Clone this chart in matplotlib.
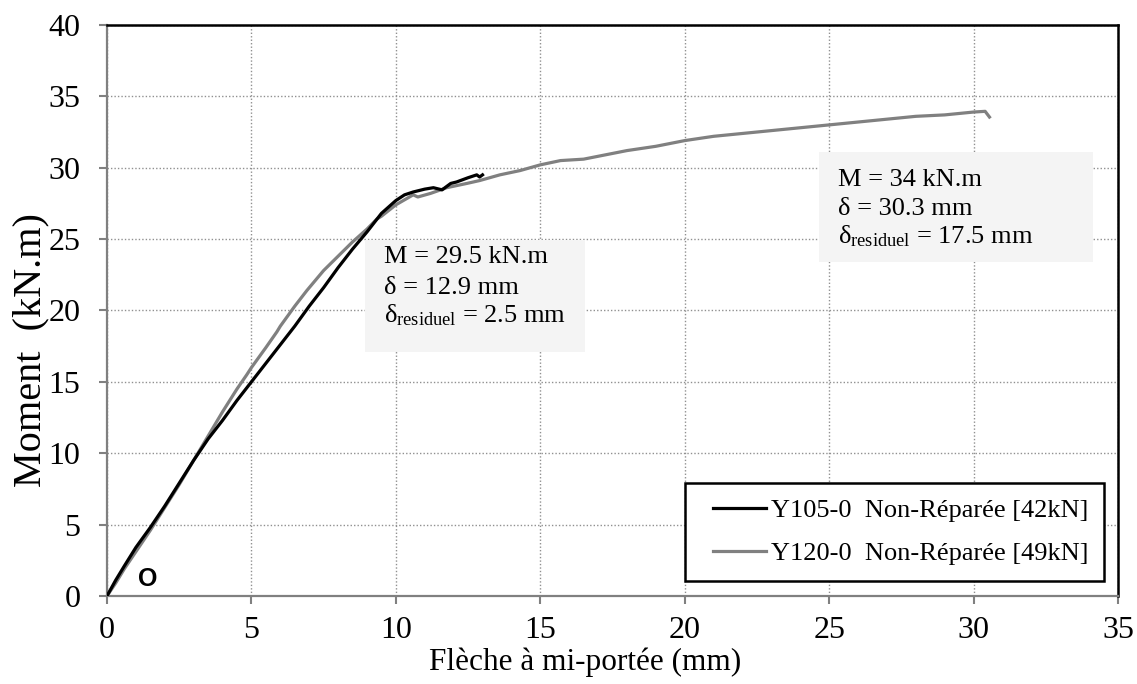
import matplotlib
matplotlib.use("Agg")
import matplotlib.pyplot as plt
from matplotlib.patches import Rectangle
from matplotlib.legend_handler import HandlerLine2D

# Y105-0 Non-Réparée [42kN]
x_y105 = [0, 0.3, 0.6, 1.0, 1.5, 2.0, 2.5, 3.0, 3.5, 4.0, 4.5, 5.0, 5.5, 6.0, 6.5,
          7.0, 7.5, 8.0, 8.5, 9.0, 9.5, 10.0, 10.3, 10.6, 11.0, 11.3, 11.6, 11.9,
          12.1, 12.5, 12.8, 12.9, 13.0]
m_y105 = [0, 1.1, 2.1, 3.4, 4.8, 6.3, 7.9, 9.5, 11.0, 12.3, 13.7, 15.0, 16.3, 17.6, 18.9,
          20.3, 21.6, 23.0, 24.3, 25.5, 26.8, 27.7, 28.1, 28.3, 28.5, 28.6, 28.45, 28.9,
          29.0, 29.3, 29.5, 29.35, 29.5]

# Y120-0 Non-Réparée [49kN]
x_y120 = [0, 0.3, 0.6, 1.0, 1.5, 2.0, 2.5, 3.0, 3.5, 4.0, 4.5, 4.84, 5.0, 5.5, 5.88,
          6.0, 6.5, 6.92, 7.5, 8.0, 8.5, 9.0, 9.34, 9.5, 10.0, 10.6, 10.76, 11.2,
          11.76, 12.46, 12.9, 13.6, 14.3, 15.0, 15.7, 16.5, 17.5, 18.0, 19.0, 20.0,
          21.0, 22.0, 23.0, 24.0, 25.0, 26.0, 27.0, 28.0, 29.0, 30.0, 30.4, 30.55]
m_y120 = [0, 0.9, 1.9, 3.1, 4.6, 6.2, 7.8, 9.5, 11.2, 12.9, 14.5, 15.5, 16.0, 17.4, 18.5,
          18.9, 20.3, 21.4, 22.8, 23.8, 24.8, 25.7, 26.4, 26.6, 27.4, 28.1, 27.95, 28.2,
          28.6, 28.9, 29.1, 29.5, 29.8, 30.2, 30.5, 30.6, 31.0, 31.2, 31.5, 31.9,
          32.2, 32.4, 32.6, 32.8, 33.0, 33.2, 33.4, 33.6, 33.7, 33.9, 33.95, 33.55]

labels = ["Y105-0  Non-Réparée [42kN]", "Y120-0  Non-Réparée [49kN]"]
x_ticks = [0, 5, 10, 15, 20, 25, 30, 35]
y_ticks = [0, 5, 10, 15, 20, 25, 30, 35, 40]

note1 = ["M = 29.5 kN.m", "δ = 12.9 mm", r"$\mathregular{δ_{residuel}}$ = 2.5 mm"]
note2 = ["M = 34 kN.m", "δ = 30.3 mm", r"$\mathregular{δ_{residuel}}$ = 17.5 mm"]

plt.rcParams['font.family'] = ['Liberation Serif', 'DejaVu Serif']
plt.rcParams['mathtext.fontset'] = 'custom'
plt.rcParams['mathtext.rm'] = 'Liberation Serif'

fig = plt.figure(figsize=(11.37, 6.84), dpi=100)
ax = fig.add_axes([0.0941, 0.1287, 0.8892, 0.8348])

ax.plot(x_y105, m_y105, color='black', lw=2.3, label=labels[0], zorder=4)
ax.plot(x_y120, m_y120, color='#808080', lw=2.3, label=labels[1], zorder=3)

ax.set_xlim(0, 35)
ax.set_ylim(0, 40)
ax.set_xticks(x_ticks)
ax.set_yticks(y_ticks)
ax.tick_params(axis='both', labelsize=23, color='#808080', length=6, width=1.5,
               direction='out')
ax.tick_params(axis='x', pad=8.5)
ax.tick_params(axis='y', pad=13)
ax.grid(True, color='#909090', linestyle=(0, (1, 1.5)), lw=1)
ax.set_axisbelow(True)

for s in ['left', 'bottom']:
    ax.spines[s].set_color('#808080')
    ax.spines[s].set_linewidth(1.6)
for s in ['top', 'right']:
    ax.spines[s].set_color('black')
    ax.spines[s].set_linewidth(1.8)

ax.set_xlabel("Flèche à mi-portée (mm)", fontsize=22.5)
ax.set_ylabel("Moment  (kN.m)", fontsize=29)
ax.xaxis.set_label_coords(0.473, -0.09)
ax.yaxis.set_label_coords(-0.057, 0.431)

# annotation boxes
ax.add_patch(Rectangle((8.93, 17.09), 16.55 - 8.93, 24.94 - 17.09,
                       facecolor='#f4f4f4', edgecolor='none', zorder=1))
ax.add_patch(Rectangle((24.65, 23.4), 34.13 - 24.65, 31.1 - 23.4,
                       facecolor='#f4f4f4', edgecolor='none', zorder=1))
for t, yb in zip(note1, [23.33, 21.16, 19.19]):
    ax.text(9.59, yb, t, fontsize=19, va='baseline', ha='left', zorder=2)
for t, yb in zip(note2, [28.72, 26.69, 24.73]):
    ax.text(25.3, yb, t, fontsize=19, va='baseline', ha='left', zorder=2)

ax.text(1.42, 1.19, "O", fontsize=18, fontweight='bold', family='Liberation Sans',
        ha='center', va='center', zorder=5)

hmap = {h: HandlerLine2D(xpad=0.45) for h in ax.get_lines()}
leg = ax.legend(loc='lower right', bbox_to_anchor=(0.9862, 0.0263), borderaxespad=0,
                fontsize=19, frameon=True, fancybox=False, framealpha=1,
                edgecolor='black', handlelength=2.45, handletextpad=0.19,
                labelspacing=0.74, borderpad=0.6, handler_map=hmap)
leg.get_frame().set_linewidth(1.8)
leg.set_zorder(6)

fig.savefig("out.png", dpi=100)
